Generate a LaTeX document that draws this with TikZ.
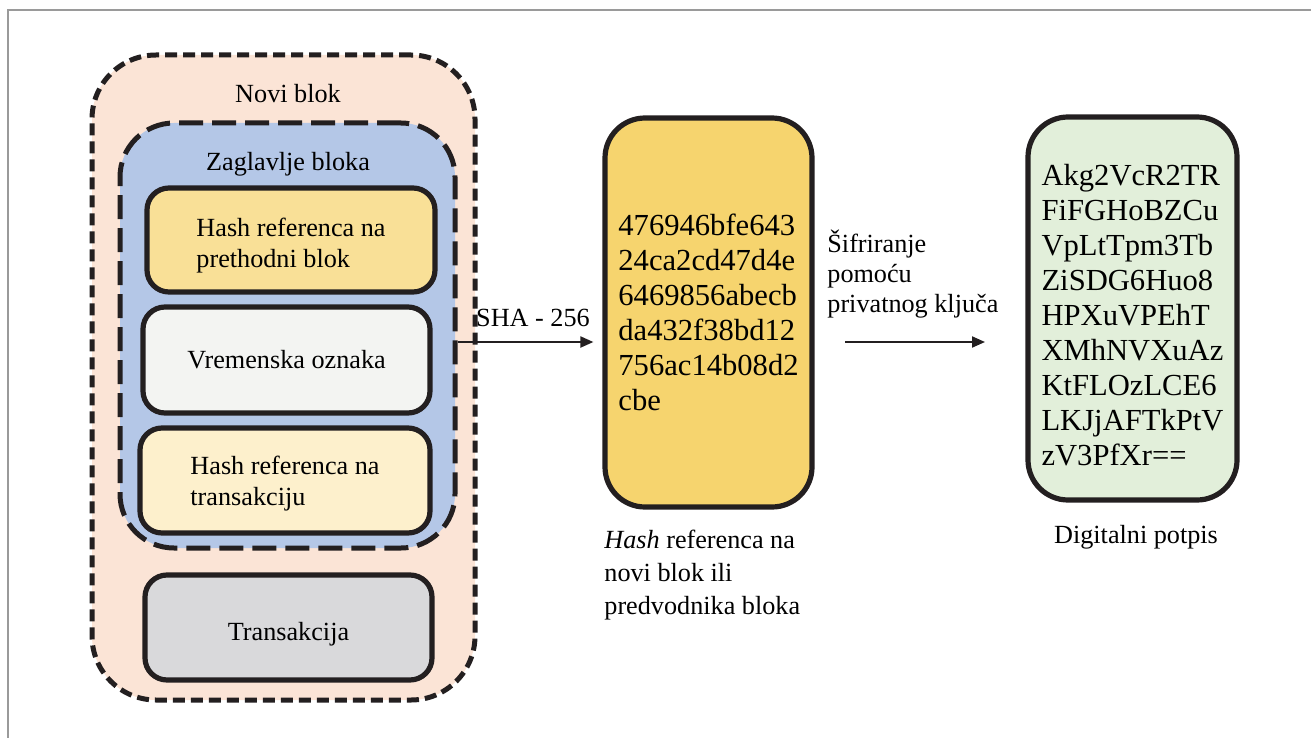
\documentclass[tikz,border=0pt]{standalone}
\usepackage{fontspec}
\setmainfont{Liberation Serif}
\usetikzlibrary{
    arrows.meta,
    positioning
}

\definecolor{ink}{HTML}{231F20}
\definecolor{peach}{HTML}{FBE4D6}
\definecolor{headblue}{HTML}{B4C7E7}
\definecolor{prevyellow}{HTML}{F9E097}
\definecolor{stampgray}{HTML}{F3F4F2}
\definecolor{trxyellow}{HTML}{FDF0CC}
\definecolor{trxgray}{HTML}{D9D9DB}
\definecolor{hashgold}{HTML}{F6D46E}
\definecolor{signgreen}{HTML}{E2EFDA}
\definecolor{framegray}{HTML}{9A9A9A}

\newcommand{\labelfont}{\fontsize{13.1}{15.5}\selectfont}
\newcommand{\hashfont}{\fontsize{15.3}{17.5}\selectfont}
\newcommand{\topgap}[1]{\rule{0pt}{#1}}

\begin{document}
\begin{tikzpicture}[x=0.5pt, y=-0.5pt,
    box/.style={shape=rectangle, draw=ink, line width=2.6pt, rounded corners=11pt,
                align=left, font=\labelfont},
    bigbox/.style={box, rounded corners=20pt, font=\hashfont},
    dashbox/.style={shape=rectangle, draw=ink, line width=2.5pt},
    arr/.style={-{Triangle[length=6.5pt,width=5.5pt]}, line width=1pt, draw=ink}
  ]
    \useasboundingbox (0,0) rectangle (1311,738);
    \draw [framegray, line width=1pt] (8,738) -- (8,10.5) -- (1311,10.5);

    % novi blok i zaglavlje
    \path (283.5,377.5) node [dashbox, fill=peach, dash pattern=on 6pt off 3pt,
                rounded corners=32pt, minimum width=191.5pt, minimum height=322.5pt] (noviblok) {}
          (287.5,335.5) node [dashbox, fill=headblue, dash pattern=on 12pt off 4.5pt,
                rounded corners=27pt, minimum width=167.5pt, minimum height=212.5pt] (zaglavlje) {};
    \path (288,103) node [anchor=base, font=\labelfont] (novitxt) {Novi blok}
          (288,170) node [anchor=base, font=\labelfont] (zaglavljetxt) {Zaglavlje bloka};

    \path (291,240)     node [box, fill=prevyellow, minimum width=144pt, minimum height=52pt] (prethodni) {\topgap{15pt}Hash referenca na\\prethodni blok}
          (286.5,360)   node [box, fill=stampgray, minimum width=143.5pt, minimum height=53pt] (oznaka) {Vremenska oznaka}
          (285,480.5)   node [box, fill=trxyellow, minimum width=145pt, minimum height=52.5pt] (trxhash) {\topgap{12pt}Hash referenca na\\transakciju}
          (288.5,627.5) node [box, fill=trxgray, minimum width=143.5pt, minimum height=52.5pt] (transakcija) {\topgap{16pt}Transakcija};

    % hash i potpis
    \path (708.5,312.5)  node [bigbox, fill=hashgold, minimum width=103.5pt, minimum height=194.5pt] (hash)
              {476946bfe643\\24ca2cd47d4e\\6469856abecb\\da432f38bd12\\756ac14b08d2\\cbe}
          (1132.5,308.5) node [bigbox, fill=signgreen, minimum width=104.5pt, minimum height=191.5pt] (potpis)
              {\topgap{17pt}Akg2VcR2TR\\FiFGHoBZCu\\VpLtTpm3Tb\\ZiSDG6Huo8\\HPXuVPEhT\\XMhNVXuAz\\KtFLOzLCE6\\LKJjAFTkPtV\\zV3PfXr==};

    \path (604,530)  node [anchor=north west, inner sep=0pt, align=left, font=\fontsize{13.1}{16.3}\selectfont] (hashtxt)
              {\textit{Hash} referenca na\\novi blok ili\\predvodnika bloka}
          (1136,543) node [anchor=base, font=\labelfont] (potpistxt) {Digitalni potpis}
          (827,230)  node [anchor=north west, inner sep=0pt, align=left, font=\fontsize{13.1}{15}\selectfont] (sifratxt)
              {Šifriranje\\pomoću\\privatnog ključa};

    % strelice
    \draw [arr, shorten >=4.5pt] (zaglavlje.east |- 0,342) -- node [above=7pt, inner sep=0pt, xshift=1.5pt, font=\labelfont] (sha) {SHA - 256} (hash.west |- 0,342);
    \coordinate (sifrastart) at (845,342);
    \coordinate (sifrakraj) at (985,342);
    \draw [arr] (sifrastart) -- (sifrakraj);
\end{tikzpicture}
\end{document}
